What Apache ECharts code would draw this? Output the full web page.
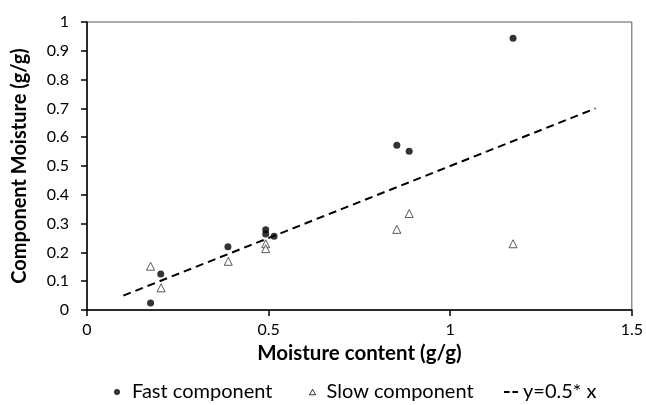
<!DOCTYPE html>
<html><head><meta charset="utf-8">
<script src="https://cdn.jsdelivr.net/npm/echarts@6/dist/echarts.min.js"></script>
<style>html,body{margin:0;padding:0;background:#fff}#c{width:646px;height:405px}</style>
</head><body><div id="c"></div>
<script>
const fastX = [0.175, 0.203, 0.388, 0.492, 0.492, 0.515, 0.853, 0.887, 1.173];
const fastY = [0.024, 0.125, 0.220, 0.279, 0.264, 0.256, 0.572, 0.551, 0.944];
const slowX = [0.175, 0.204, 0.389, 0.492, 0.492, 0.853, 0.887, 1.173];
const slowY = [0.152, 0.077, 0.169, 0.230, 0.213, 0.280, 0.335, 0.230];
const lineX = [0.1, 1.4];
const lineY = [0.05, 0.7];
const names = ['Fast component', 'Slow component', 'y=0.5* x'];
const zip = (a, b) => a.map((v, i) => [v, b[i]]);
const font = 'Lato';
const legText = {fontFamily: font, fontSize: 20, color: '#000'};
const chart = echarts.init(document.getElementById('c'));
chart.setOption({
  animation: false,
  grid: {left: 87, right: 11, top: 22, bottom: 95, show: true, borderColor: '#595959', borderWidth: 1},
  xAxis: {
    type: 'value', min: 0, max: 1.5, interval: 0.5,
    name: 'Moisture content (g/g)', nameLocation: 'middle', nameGap: 30,
    nameTextStyle: {fontFamily: font, fontWeight: 'bold', fontSize: 20.5, color: '#000'},
    axisLine: {lineStyle: {color: '#000', width: 1.5}},
    axisTick: {show: true, length: 6, lineStyle: {color: '#000', width: 1.5}},
    axisLabel: {fontFamily: font, fontSize: 16, color: '#000', margin: 12},
    splitLine: {show: false}
  },
  yAxis: {
    type: 'value', min: 0, max: 1, interval: 0.1,
    name: 'Component Moisture (g/g)', nameLocation: 'middle', nameGap: 57, nameRotate: 90,
    nameTextStyle: {fontFamily: font, fontWeight: 'bold', fontSize: 20, color: '#000'},
    axisLine: {show: true, lineStyle: {color: '#000', width: 1.5}},
    axisTick: {show: true, length: 6, lineStyle: {color: '#000', width: 1.5}},
    axisLabel: {fontFamily: font, fontSize: 16, color: '#000', margin: 18},
    splitLine: {show: false}
  },
  legend: [
    {data: [{name: names[0], icon: 'circle', itemStyle: {color: '#000'}}],
     left: 114, top: 382, padding: 0, itemWidth: 20, itemHeight: 6, textStyle: legText},
    {data: [{name: names[1], icon: 'path://M5,0L10,9L0,9Z', itemStyle: {color: '#fff', borderColor: '#000', borderWidth: 1}}],
     left: 309, top: 382, padding: 0, itemWidth: 18, itemHeight: 5.5, textStyle: legText},
    {data: [{name: names[2], icon: 'path://M0,0h6v2h-6z M9,0h6v2h-6z', itemStyle: {color: '#000'}}],
     left: 504, top: 382, padding: 0, itemWidth: 14, itemHeight: 2, textStyle: legText}
  ],
  series: [
    {name: names[0], type: 'scatter', data: zip(fastX, fastY), symbol: 'circle', symbolSize: 7,
     itemStyle: {color: '#000'}, z: 3},
    {name: names[1], type: 'scatter', data: zip(slowX, slowY), symbol: 'triangle', symbolSize: 8,
     itemStyle: {color: '#fff', borderColor: '#333', borderWidth: 1}, z: 3},
    {name: names[2], type: 'line', data: zip(lineX, lineY), showSymbol: false, symbol: 'none',
     lineStyle: {color: '#000', width: 2, type: [8, 5]}, itemStyle: {color: '#000'}, z: 2}
  ]
});
</script></body></html>
